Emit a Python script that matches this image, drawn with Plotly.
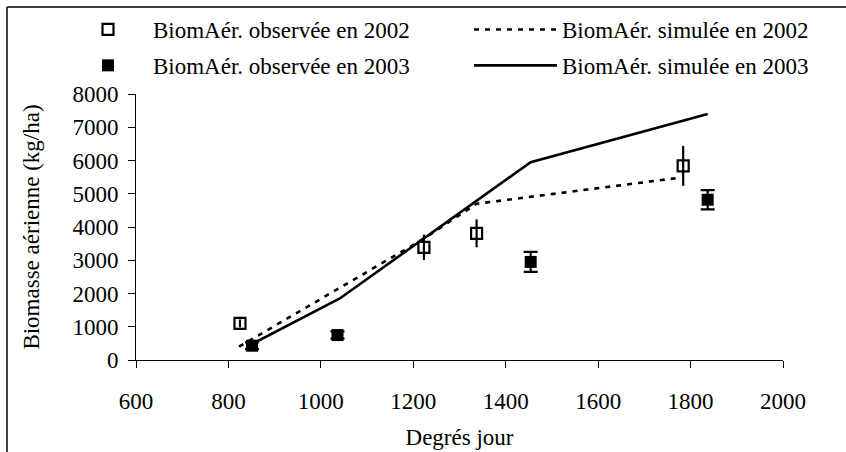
import plotly.graph_objects as go

# Observed 2002
obs02_x = [825, 1223, 1337, 1784]
obs02_y = [1100, 3390, 3810, 5840]
obs02_err = [120, 380, 420, 600]

# Observed 2003
obs03_x = [851, 1036, 1454, 1837]
obs03_y = [430, 750, 2950, 4820]
obs03_err = [100, 110, 300, 290]

# Simulated 2002
sim02_x = [823, 1036, 1223, 1337, 1775]
sim02_y = [400, 2130, 3650, 4700, 5480]

# Simulated 2003
sim03_x = [851, 1041, 1454, 1837]
sim03_y = [480, 1850, 5950, 7400]

x_ticks = [600, 800, 1000, 1200, 1400, 1600, 1800, 2000]
y_ticks = [0, 1000, 2000, 3000, 4000, 5000, 6000, 7000, 8000]

FONT = "Liberation Serif"
FS = 23
W, H = 846, 452
L, R, T, B = 136, 63, 94, 92
pw, ph = W - L - R, H - T - B

def px(x):
    return (x - L) / pw

def py(y):
    return (H - B - y) / ph

fig = go.Figure()
fig.add_trace(go.Scatter(
    x=obs02_x, y=obs02_y, mode="markers", name="BiomAér. observée en 2002",
    legend="legend", legendgroup="a",
    marker=dict(symbol="square-open", size=11, color="black", line=dict(width=2.2, color="black")),
    error_y=dict(type="data", array=obs02_err, color="black", thickness=2.2, width=0),
))
fig.add_trace(go.Scatter(
    x=obs03_x, y=obs03_y, mode="markers", name="BiomAér. observée en 2003",
    legend="legend", legendgroup="b",
    marker=dict(symbol="square", size=12, color="black", line=dict(width=0)),
    error_y=dict(type="data", array=obs03_err, color="black", thickness=2.2, width=7),
))
fig.add_trace(go.Scatter(
    x=sim02_x, y=sim02_y, mode="lines", name="BiomAér. simulée en 2002",
    legend="legend2", legendgroup="c",
    line=dict(color="black", width=2.6, dash="5px,6px"),
))
fig.add_trace(go.Scatter(
    x=sim03_x, y=sim03_y, mode="lines", name="BiomAér. simulée en 2003",
    legend="legend2", legendgroup="d",
    line=dict(color="black", width=2.6),
))

leg_common = dict(
    orientation="v", xanchor="left", yanchor="top",
    font=dict(family=FONT, size=FS, color="black"),
    bgcolor="rgba(0,0,0,0)", borderwidth=0, tracegroupgap=3,
    traceorder="grouped",
)

fig.update_layout(
    width=W, height=H,
    margin=dict(l=L, r=R, t=T, b=B, pad=0, autoexpand=False),
    paper_bgcolor="white", plot_bgcolor="white",
    font=dict(family=FONT, size=FS, color="black"),
    showlegend=True,
    legend=dict(x=px(63), y=py(8), itemwidth=80, **leg_common),
    legend2=dict(x=px(469), y=py(8), itemwidth=83, **leg_common),
    xaxis=dict(
        range=[600, 2000], tickvals=x_ticks, showgrid=False, zeroline=False,
        showline=True, linecolor="black", linewidth=1,
        ticks="outside", ticklen=7, tickcolor="black", tickwidth=1,
        ticklabelstandoff=13,
        title=dict(text="Degrés jour", font=dict(family=FONT, size=FS), standoff=16),
        tickfont=dict(family=FONT, size=FS),
    ),
    yaxis=dict(
        range=[0, 8000], tickvals=y_ticks, showgrid=False, zeroline=False,
        showline=True, linecolor="black", linewidth=1,
        ticks="outside", ticklen=7, tickcolor="black", tickwidth=1,
        ticklabelstandoff=5,
        title=dict(text="Biomasse aérienne (kg/ha)", font=dict(family=FONT, size=FS), standoff=26),
        tickfont=dict(family=FONT, size=FS),
    ),
    shapes=[
        dict(type="line", xref="paper", yref="paper", x0=px(7), x1=px(W + 5), y0=py(7), y1=py(7),
             line=dict(color="black", width=1.5)),
        dict(type="line", xref="paper", yref="paper", x0=px(7), x1=px(7), y0=py(7), y1=py(H + 5),
             line=dict(color="black", width=1.5)),
    ],
)

fig.write_html("out.html", config={"displayModeBar": False},
               post_script="document.body.style.margin='0';")
